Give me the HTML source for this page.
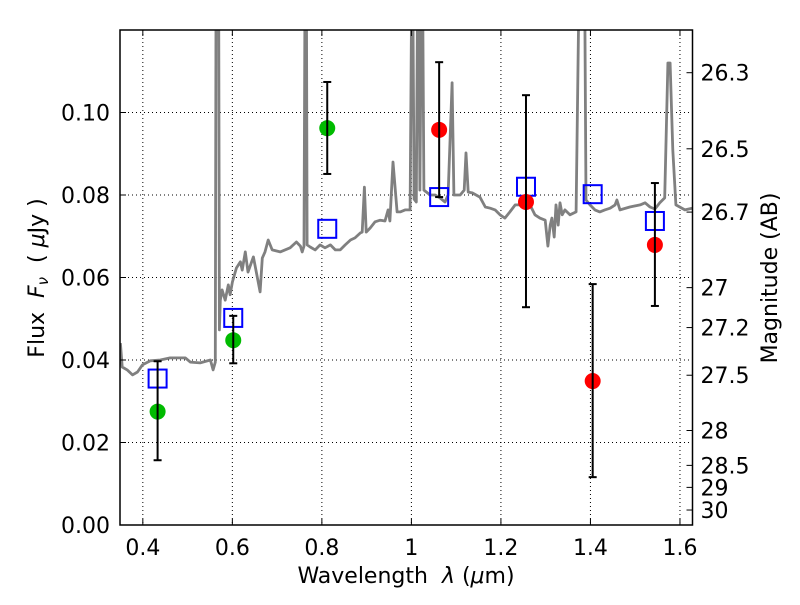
<!DOCTYPE html>
<html><head><meta charset="utf-8"><style>
body{margin:0;background:#fff}
svg text{font-family:"DejaVu Sans","Liberation Sans",sans-serif;fill:#000;white-space:pre}
</style></head><body>
<svg id="chart" width="800" height="600" viewBox="0 0 800 600" xmlns="http://www.w3.org/2000/svg" xml:space="preserve">
<defs><clipPath id="clip"><rect x="120" y="30" width="572.5" height="495"/></clipPath></defs>
<rect x="0" y="0" width="800" height="600" fill="#fff"/>
<g id="grid"></g>
<g id="plot" clip-path="url(#clip)"></g>
<g id="axes"></g>
<text x="406" y="583" text-anchor="middle" font-size="22">Wavelength  <tspan font-style="italic">λ</tspan> (<tspan font-style="italic">μ</tspan>m)</text>
<text transform="translate(44,278) rotate(-90)" text-anchor="middle" font-size="22">Flux  <tspan font-style="italic">F</tspan><tspan font-style="italic" font-size="15" dy="4">ν</tspan><tspan dy="-4">  ( </tspan><tspan font-style="italic">μ</tspan>Jy )</text>
<text transform="translate(777,278) rotate(-90)" text-anchor="middle" font-size="22">Magnitude (AB)</text>
</svg>
<script>
const specWave=[0.350,0.354,0.365,0.377,0.388,0.399,0.417,0.439,0.461,0.495,0.506,0.528,0.551,0.557,0.562,0.564,0.569,0.571,0.573,0.577,0.584,0.591,0.595,0.600,0.609,0.618,0.622,0.629,0.635,0.647,0.662,0.667,0.673,0.680,0.689,0.707,0.729,0.743,0.752,0.756,0.760,0.763,0.765,0.767,0.774,0.785,0.796,0.807,0.819,0.830,0.841,0.852,0.864,0.874,0.886,0.890,0.895,0.899,0.908,0.919,0.930,0.941,0.948,0.952,0.959,0.968,0.975,0.986,0.993,0.997,1.002,1.006,1.011,1.015,1.019,1.024,1.028,1.042,1.053,1.064,1.075,1.082,1.091,1.095,1.109,1.118,1.122,1.127,1.136,1.153,1.165,1.176,1.187,1.198,1.209,1.220,1.232,1.243,1.256,1.265,1.276,1.287,1.299,1.305,1.310,1.314,1.319,1.323,1.328,1.332,1.337,1.343,1.354,1.368,1.377,1.386,1.390,1.399,1.410,1.421,1.432,1.444,1.455,1.459,1.466,1.488,1.511,1.522,1.533,1.544,1.555,1.566,1.573,1.578,1.584,1.591,1.611,1.627];
const specFlux=[0.0441,0.0383,0.0376,0.0364,0.0371,0.0388,0.0398,0.0400,0.0405,0.0405,0.0395,0.0393,0.0400,0.0376,0.0395,0.15,0.15,0.0473,0.0545,0.0570,0.0545,0.0582,0.0558,0.0589,0.0623,0.0638,0.0618,0.0662,0.0613,0.0650,0.0565,0.0647,0.0662,0.0691,0.0667,0.0662,0.0672,0.0686,0.0676,0.0662,0.0676,0.15,0.15,0.0679,0.0674,0.0667,0.0679,0.0672,0.0679,0.0667,0.0667,0.0679,0.0691,0.0696,0.0708,0.0710,0.0819,0.0710,0.0720,0.0735,0.0739,0.0737,0.0764,0.0737,0.0880,0.0759,0.0759,0.0764,0.0764,0.0764,0.15,0.0790,0.0783,0.15,0.0812,0.15,0.0812,0.0800,0.0800,0.0793,0.0783,0.0800,0.1072,0.0800,0.0800,0.0812,0.0902,0.0807,0.0805,0.0795,0.0771,0.0768,0.0764,0.0752,0.0744,0.0759,0.0776,0.0776,0.0788,0.0776,0.0752,0.0744,0.0739,0.0676,0.0727,0.0744,0.0698,0.0776,0.0727,0.0781,0.0752,0.0764,0.0752,0.0759,0.15,0.15,0.0788,0.0776,0.0764,0.0759,0.0764,0.0768,0.0776,0.0788,0.0764,0.0771,0.0776,0.0781,0.0771,0.0766,0.0781,0.0793,0.1120,0.1120,0.0909,0.0776,0.0764,0.0768];
const obsWave=[0.433,0.602,0.812,1.062,1.256,1.405,1.544];
const obsFlux=[0.0275,0.0448,0.0962,0.0958,0.0783,0.0349,0.0679];
const obsErrHi=[0.0397,0.0507,0.1074,0.1122,0.1042,0.0584,0.0829];
const obsErrLo=[0.0157,0.0392,0.0851,0.0795,0.0528,0.0116,0.0531];
const obsColor=["#00bb00","#00bb00","#00bb00","#ff0000","#ff0000","#ff0000","#ff0000"];
const modelFlux=[0.0355,0.0502,0.0718,0.0795,0.0820,0.0802,0.0737];
const xTicks=[0.4,0.6,0.8,1.0,1.2,1.4,1.6];
const xTickLabels=["0.4","0.6","0.8","1","1.2","1.4","1.6"];
const yTicks=[0,0.02,0.04,0.06,0.08,0.10];
const yTickLabels=["0.00","0.02","0.04","0.06","0.08","0.10"];
const magTicks=[26.3,26.5,26.7,27,27.2,27.5,28,28.5,29,30];
const magTickLabels=["26.3","26.5","26.7","27","27.2","27.5","28","28.5","29","30"];

const NS="http://www.w3.org/2000/svg";
const L=120,R=692.5,T=30,B=525,xmin=0.349,xmax=1.628,ymin=0,ymax=0.12;
function X(v){return L+(v-xmin)/(xmax-xmin)*(R-L);}
function Y(v){return B-(v-ymin)/(ymax-ymin)*(B-T);}
function mk(tag,attrs,parent){const e=document.createElementNS(NS,tag);for(const k in attrs)e.setAttribute(k,attrs[k]);parent.appendChild(e);return e;}
const grid=document.getElementById('grid'),plot=document.getElementById('plot'),axes=document.getElementById('axes');

xTicks.forEach((t,i)=>{
  const g=mk('line',{x1:X(t),x2:X(t),y1:T,y2:B,stroke:'#000','stroke-width':1,'stroke-dasharray':'1,3'},grid);
  
  
  mk('line',{x1:X(t),x2:X(t),y1:B,y2:B-6,stroke:'#000','stroke-width':1},axes);
  mk('line',{x1:X(t),x2:X(t),y1:T,y2:T+6,stroke:'#000','stroke-width':1},axes);
  const tx=mk('text',{x:X(t),y:B+30,'text-anchor':'middle','font-size':22},axes);
  tx.textContent=xTickLabels[i];
  
  
});
yTicks.forEach((t,i)=>{
  const g=mk('line',{x1:L,x2:R,y1:Y(t),y2:Y(t),stroke:'#000','stroke-width':1,'stroke-dasharray':'1,3'},grid);
  
  
  mk('line',{x1:L,x2:L+6,y1:Y(t),y2:Y(t),stroke:'#000','stroke-width':1},axes);
  const tx=mk('text',{x:L-10,y:Y(t)+8,'text-anchor':'end','font-size':22},axes);
  tx.textContent=yTickLabels[i];
  
  
});
magTicks.forEach((m,i)=>{
  const f=Math.pow(10,(23.9-m)/2.5);
  mk('line',{x1:R,x2:R-6,y1:Y(f),y2:Y(f),stroke:'#000','stroke-width':1},axes);
  const tx=mk('text',{x:R+8,y:Y(f)+8,'text-anchor':'start','font-size':22},axes);
  tx.textContent=magTickLabels[i];
  
  
});

let d='';
specWave.forEach((w,i)=>{d+=(i?'L':'M')+X(w).toFixed(1)+','+Y(specFlux[i]).toFixed(1);});
const sp=mk('path',{d:d,fill:'none',stroke:'#808080','stroke-width':2.8,'stroke-linejoin':'round'},plot);



obsWave.forEach((w,i)=>{
  const x=X(w);
  const sq=mk('rect',{x:x-9,y:Y(modelFlux[i])-9,width:18,height:18,fill:'none',stroke:'#0000ff','stroke-width':2},plot);
  
  
  const c=mk('circle',{cx:x,cy:Y(obsFlux[i]),r:8,fill:obsColor[i]},plot);
  
  
  const eb=mk('g',{stroke:'#000','stroke-width':2},plot);
  
  
  mk('line',{x1:x,x2:x,y1:Y(obsErrHi[i]),y2:Y(obsErrLo[i])},eb);
  mk('line',{x1:x-4,x2:x+4,y1:Y(obsErrHi[i]),y2:Y(obsErrHi[i])},eb);
  mk('line',{x1:x-4,x2:x+4,y1:Y(obsErrLo[i]),y2:Y(obsErrLo[i])},eb);
});

const fr=mk('rect',{x:L,y:T,width:R-L,height:B-T,fill:'none',stroke:'#000','stroke-width':1.5},axes);


</script>
</body></html>
